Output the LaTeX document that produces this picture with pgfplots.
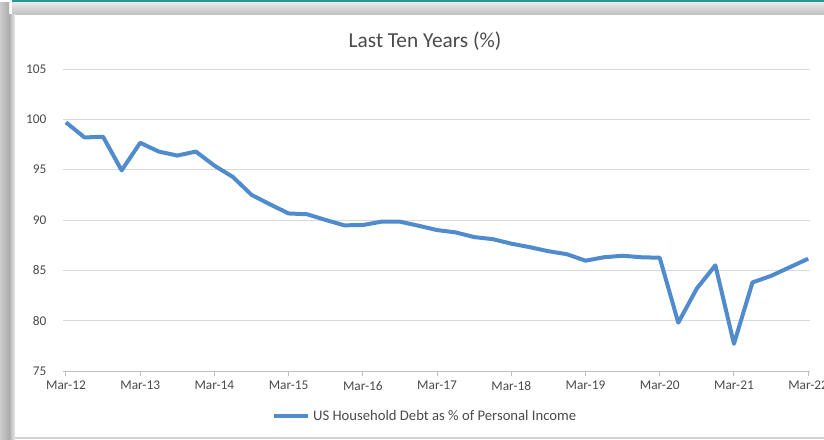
\documentclass[border=0pt]{standalone}
\usepackage{pgfplots}
\pgfplotsset{compat=1.18}
\usepackage{pgfplotstable}
\usepackage{fontspec}
\setmainfont{Carlito}
\definecolor{lineblue}{RGB}{80,140,205}
\definecolor{txtgray}{RGB}{75,75,75}
\definecolor{gridgray}{RGB}{217,217,217}
\definecolor{axgray}{RGB}{191,191,191}
\definecolor{tealtop}{RGB}{40,150,150}

\pgfplotstableread{
i v
0 99.7
1 98.2
2 98.27
3 94.93
4 97.67
5 96.8
6 96.4
7 96.8
8 95.4
9 94.27
10 92.5
11 91.55
12 90.65
13 90.57
14 90.0
15 89.47
16 89.5
17 89.83
18 89.83
19 89.43
20 89.0
21 88.77
22 88.3
23 88.1
24 87.65
25 87.3
26 86.9
27 86.6
28 85.96
29 86.3
30 86.45
31 86.3
32 86.25
33 79.8
34 83.2
35 85.5
36 77.7
37 83.8
38 84.45
39 85.3
40 86.15
}\datatable

\begin{document}
\begin{tikzpicture}
\useasboundingbox (0,0) rectangle (618pt,329.25pt);
\clip (0,0) rectangle (618pt,329.25pt);
\begin{scope}[x=0.75pt,y=0.75pt]
\fill[white] (0,0) rectangle (824,439);
\fill[tealtop] (12,436) rectangle (824,439);
\shade[top color=gray!20, bottom color=gray!50] (12,424) rectangle (824,436);
\shade[left color=gray!40, right color=gray!65] (0,0) rectangle (9,436);
\shade[left color=gray!65, right color=gray!15] (9,0) rectangle (15,424);
\draw[gray!35, line width=1.5pt] (15,1.5) -- (824,1.5);
\node[text=txtgray, font=\fontsize{16}{19}\selectfont] at (425,398) {Last Ten Years (\%)};
\end{scope}
\begin{axis}[
  at={(47.25pt,51pt)}, anchor=south west,
  scale only axis, width=560.25pt, height=226.5pt,
  xmin=-0.16, xmax=40.1, ymin=75, ymax=105,
  ytick={75,80,...,105},
  xtick={0,4,...,40},
  xticklabels={Mar-12,Mar-13,Mar-14,Mar-15,Mar-16,Mar-17,Mar-18,Mar-19,Mar-20,Mar-21,Mar-22},
  /pgf/number format/assume math mode=true,
  axis lines*=left,
  y axis line style={draw=none},
  x axis line style={axgray, line width=0.75pt},
  ytick style={draw=none},
  xtick style={axgray, line width=0.75pt},
  tick align=outside, major tick length=4pt,
  ymajorgrids, grid style={gridgray, line width=0.75pt},
  tick label style={font=\fontsize{10}{12}\selectfont, text=txtgray},
  yticklabel style={xshift=-5pt},
  legend style={at={(0.485,-0.149)}, anchor=center, draw=none, fill=none,
    font=\fontsize{11}{13}\selectfont, text=txtgray},
  legend image code/.code={\draw[#1, line width=3pt] (0pt,0pt) -- (26pt,0pt);},
  clip=false,
]
\addplot[lineblue, line width=3pt, line join=round] table[x=i, y=v] {\datatable};
\addlegendentry{US Household Debt as \% of Personal Income}
\end{axis}
\end{tikzpicture}
\end{document}
